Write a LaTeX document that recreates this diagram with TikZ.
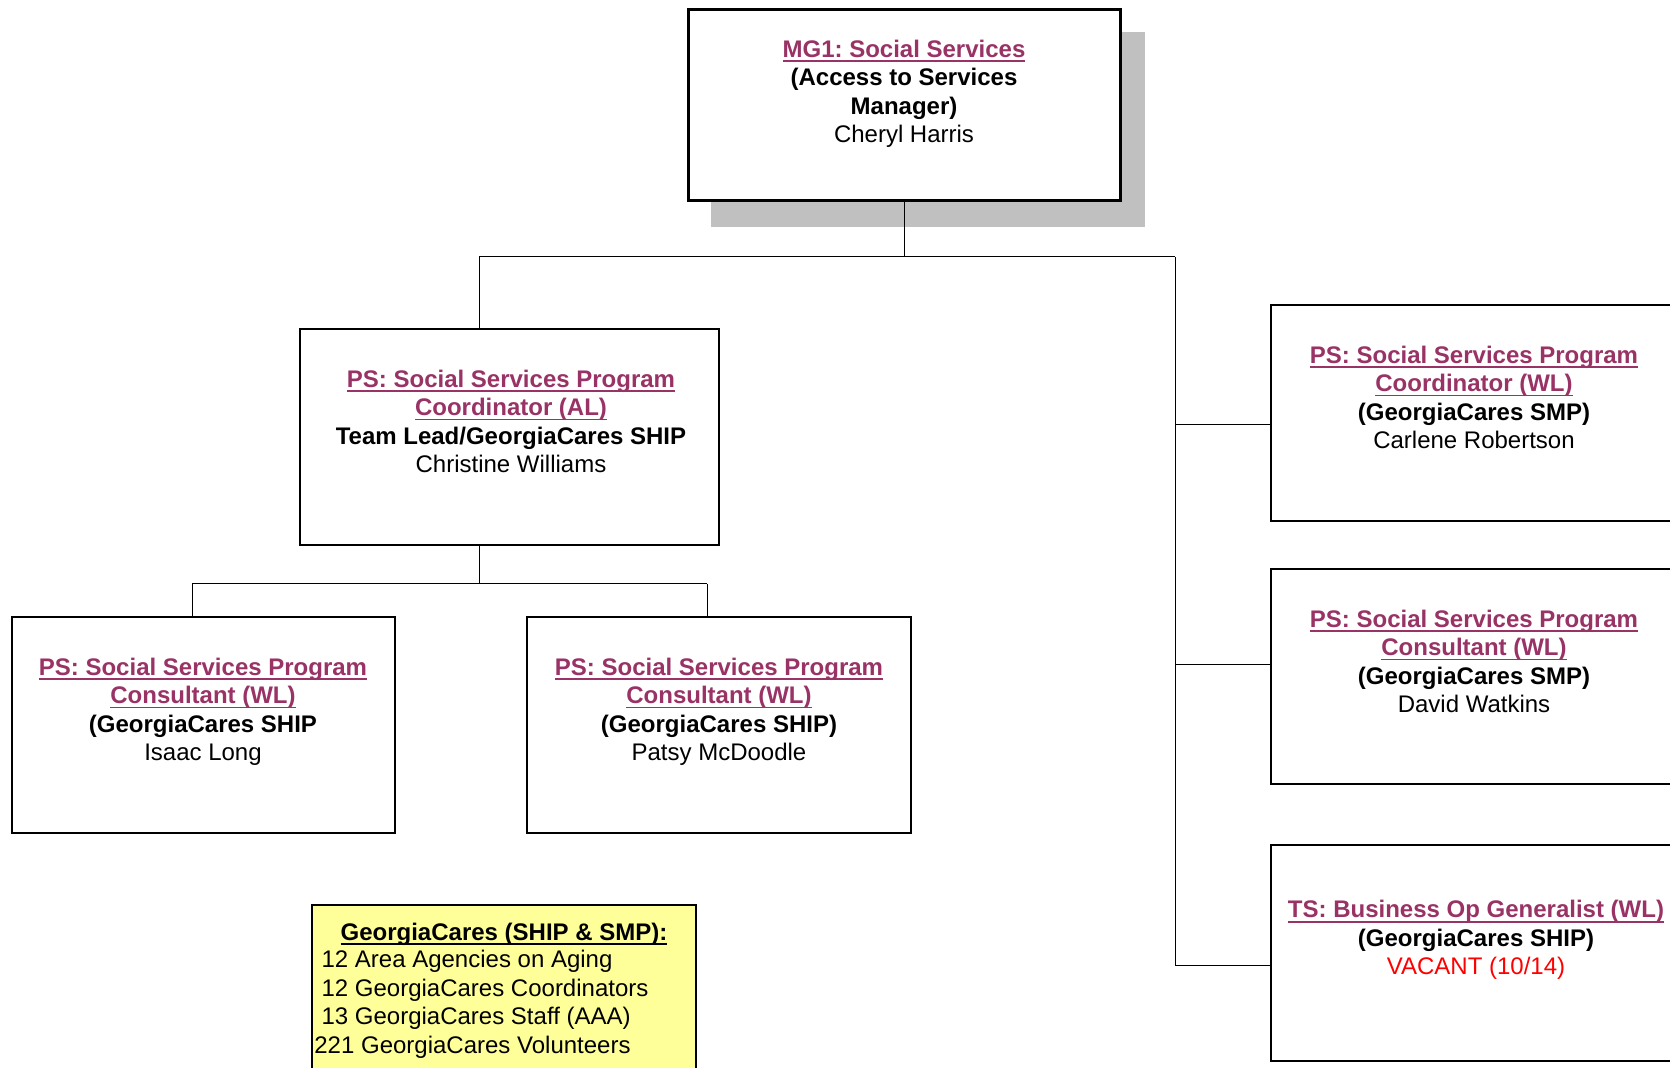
\documentclass[tikz,border=0pt]{standalone}
\usepackage{fontspec}
\setmainfont{Liberation Sans}
\usetikzlibrary{calc}
\definecolor{plum}{RGB}{153,51,102}
\definecolor{shadowgray}{RGB}{192,192,192}
\definecolor{noteyellow}{RGB}{255,255,153}
\definecolor{vacantred}{RGB}{255,0,0}
\newcommand\myul[1]{\setbox0=\hbox{#1}\rlap{\rule[-0.19em]{\wd0}{0.07em}}\box0}
\newcommand\ttl[1]{{\color{plum}\bfseries\myul{#1}}}
\frenchspacing
\begin{document}
\frenchspacing
\begin{tikzpicture}[x=0.5pt,y=-0.5pt,
  orgbox/.style={draw=black, line width=0.9pt, fill=white, rectangle, inner sep=0pt},
  topbox/.style={orgbox, line width=1.5pt},
  notebox/.style={orgbox, fill=noteyellow, line width=0.8pt},
  boxtext/.style={align=center, inner sep=0pt, anchor=north, font=\fontsize{12}{14.15}\selectfont\frenchspacing},
  notetext/.style={align=left, inner sep=0pt, anchor=north west, font=\fontsize{12}{14.3}\selectfont\frenchspacing},
  link/.style={draw=black, line width=0.5pt}]
\useasboundingbox (0,0) rectangle (1670,1068);
\clip (0,0) rectangle (1670,1068);
\fill[white] (0,0) rectangle (1670,1068);
% shadow of top box
\fill[shadowgray] (711,32) rectangle (1145,227);
% boxes
\node[topbox, minimum width=216pt, minimum height=95.5pt] (top) at (904,105.5) {};
\node[orgbox, minimum width=209.5pt, minimum height=108pt] (al) at (509.5,437) {};
\node[orgbox, minimum width=191.5pt, minimum height=108pt] (isaac) at (203.5,725) {};
\node[orgbox, minimum width=192pt, minimum height=108pt] (patsy) at (719,725) {};
\node[orgbox, minimum width=203pt, minimum height=108pt] (r1) at (1474,413) {};
\node[orgbox, minimum width=203pt, minimum height=107.5pt] (r2) at (1474,676.5) {};
\node[orgbox, minimum width=203pt, minimum height=108pt] (r3) at (1474,953) {};
\node[notebox, minimum width=192pt, minimum height=92.5pt] (note) at (504,997.5) {};
% connector points
\coordinate (bus1) at (479,257);
\coordinate (bus1r) at (1175,257);
\coordinate (b1) at (1175,425);
\coordinate (b2) at (1175,665);
\coordinate (b3) at (1175,965);
\coordinate (bus2) at (479,584);
\coordinate (bus2l) at (192,584);
\coordinate (bus2r) at (707,584);
% connectors
\draw[link] (top.south) -- (top.south |- bus1);
\draw[link] (bus1) -- (bus1r);
\draw[link] (bus1) -- (bus1 |- al.north);
\draw[link] (bus1r) -- (b3);
\draw[link] (b1) -- (b1 -| r1.west);
\draw[link] (b2) -- (b2 -| r2.west);
\draw[link] (b3) -- (b3 -| r3.west);
\draw[link] (al.south -| bus2) -- (bus2);
\draw[link] (bus2l) -- (bus2r);
\draw[link] (bus2l) -- (bus2l |- isaac.north);
\draw[link] (bus2r) -- (bus2r |- patsy.north);
% texts
\node[boxtext] (ttop) at (904,39.7) {\ttl{MG1: Social Services}\\{\bfseries (Access to Services}\\{\bfseries Manager)}\\Cheryl Harris};
\node[boxtext] (tal) at (511,369.7) {\ttl{PS: Social Services Program}\\\ttl{Coordinator (AL)}\\{\bfseries Team Lead/GeorgiaCares SHIP}\\Christine Williams};
\node[boxtext] (tisaac) at (203,657.7) {\ttl{PS: Social Services Program}\\\ttl{Consultant (WL)}\\{\bfseries (GeorgiaCares SHIP}\\Isaac Long};
\node[boxtext] (tpatsy) at (719,657.7) {\ttl{PS: Social Services Program}\\\ttl{Consultant (WL)}\\{\bfseries (GeorgiaCares SHIP)}\\Patsy McDoodle};
\node[boxtext] (tr1) at (1474,345.7) {\ttl{PS: Social Services Program}\\\ttl{Coordinator (WL)}\\{\bfseries (GeorgiaCares SMP)}\\Carlene Robertson};
\node[boxtext] (tr2) at (1474,609.7) {\ttl{PS: Social Services Program}\\\ttl{Consultant (WL)}\\{\bfseries (GeorgiaCares SMP)}\\David Watkins};
\node[boxtext] (tr3) at (1476,900.2) {\ttl{TS: Business Op Generalist (WL)}\\{\bfseries (GeorgiaCares SHIP)}\\\textcolor{vacantred}{VACANT (10/14)}};
\node[boxtext] (tnote) at (504,922.7) {{\bfseries\myul{GeorgiaCares (SHIP \& SMP):}}};
\node[notetext] (tlist) at (314,949.7) {\hspace*{0.3em}12 Area Agencies on Aging\\\hspace*{0.3em}12 GeorgiaCares Coordinators\\\hspace*{0.3em}13 GeorgiaCares Staff (AAA)\\221 GeorgiaCares Volunteers};
\end{tikzpicture}
\end{document}
